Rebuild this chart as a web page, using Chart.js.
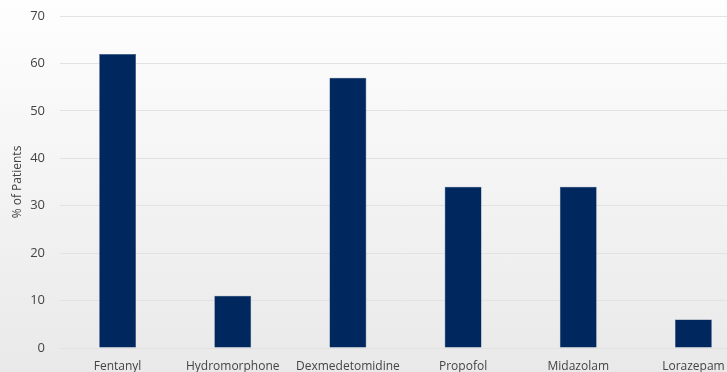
<!DOCTYPE html>
<html>
<head>
<meta charset="utf-8">
<script src="https://cdn.jsdelivr.net/npm/chart.js@4"></script>
<style>
    html, body {
        margin: 0;
        padding: 0;
        width: 727px;
        height: 372px;
        overflow: hidden;
        background: linear-gradient(#fefefe, #e9e9e9);
    }
    #wrap {
        position: absolute;
        left: 0;
        top: 0;
        width: 760px;
        height: 372px;
    }
</style>
</head>
<body>
<div id="wrap"><canvas id="grafico"></canvas></div>
<script>
// datos
const medicamentos = ['Fentanyl', 'Hydromorphone', 'Dexmedetomidine', 'Propofol', 'Midazolam', 'Lorazepam'];
const porcentajes = [62, 11, 57, 34, 34, 6];
const ejeYMax = 70;
const ejeYPaso = 10;

const colorBarra = '#00285f';
const colorTexto = '#444444';

const ctx = document.getElementById('grafico').getContext('2d');

const myChart = new Chart(ctx, {
    type: 'bar',
    data: {
        labels: medicamentos,
        datasets: [{
            label: '% of Patients',
            data: porcentajes,
            backgroundColor: colorBarra,
            borderColor: '#2a4a7a',
            borderWidth: 0.5,
            categoryPercentage: 0.32,
            barPercentage: 1
        }]
    },
    options: {
        responsive: true,
        maintainAspectRatio: false,
        animation: false,
        layout: {
            padding: { top: 16, right: 9, left: 0, bottom: 0 }
        },
        plugins: {
            legend: { display: false },
            tooltip: { enabled: false }
        },
        scales: {
            x: {
                grid: { display: false, drawTicks: false },
                border: { display: false },
                ticks: {
                    color: colorTexto,
                    padding: 11,
                    maxRotation: 0,
                    autoSkip: false,
                    font: { family: 'Open Sans', size: 12 }
                },
                afterFit: function (scale) {
                    scale.height = 24;
                }
            },
            y: {
                min: 0,
                max: ejeYMax,
                grid: { color: '#e2e2e2', drawTicks: false, tickLength: 0 },
                border: { display: false },
                ticks: {
                    stepSize: ejeYPaso,
                    color: colorTexto,
                    padding: 15,
                    font: { family: 'Open Sans', size: 13 }
                },
                title: {
                    display: true,
                    text: '% of Patients',
                    color: colorTexto,
                    padding: { top: 10, bottom: 0 },
                    font: { family: 'Open Sans', size: 12 }
                },
                afterFit: function (scale) {
                    scale.width = 60;
                    scale.paddingTop = 0;
                    scale.paddingBottom = 0;
                }
            }
        }
    }
});
</script>
</body>
</html>
